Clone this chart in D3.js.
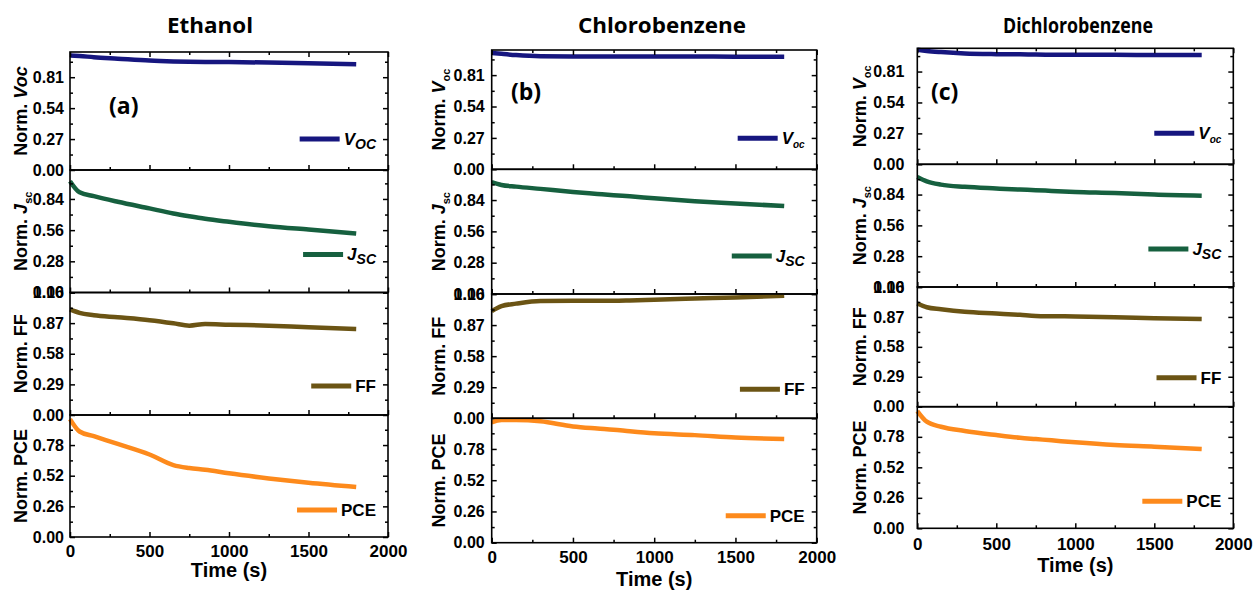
<!DOCTYPE html>
<html>
<head>
<meta charset="utf-8">
<script src="https://cdn.jsdelivr.net/npm/d3@7"></script>
<style>
body { margin: 0; background: #fff; }
svg text { font-family: "Liberation Sans", Arial, sans-serif; font-weight: bold; fill: #000; }
svg text.title { font-family: "Open Sans", sans-serif; }
</style>
</head>
<body>
<svg></svg>
<script>
const width = 1253;
const height = 592;

// data
const solvents = ["Ethanol", "Chlorobenzene", "Dichlorobenzene"];
const panelLetters = ["(a)", "(b)", "(c)"];
const seriesKeys = ["Voc", "Jsc", "FF", "PCE"];
const times = [0, 60, 150, 300, 500, 650, 750, 850, 1000, 1250, 1500, 1800];

const ethanolVoc = [1.0, 0.995, 0.985, 0.972, 0.955, 0.948, 0.945, 0.943, 0.942, 0.938, 0.932, 0.922];
const ethanolJsc = [1.0, 0.90, 0.865, 0.815, 0.755, 0.71, 0.685, 0.662, 0.635, 0.595, 0.565, 0.53];
const ethanolFF = [1.0, 0.967, 0.945, 0.925, 0.897, 0.868, 0.846, 0.862, 0.855, 0.846, 0.83, 0.815];
const ethanolPCE = [1.0, 0.895, 0.855, 0.79, 0.70, 0.61, 0.585, 0.57, 0.54, 0.497, 0.46, 0.424];

const chloroVoc = [1.0, 0.993, 0.982, 0.972, 0.970, 0.970, 0.970, 0.970, 0.970, 0.970, 0.969, 0.968];
const chloroJsc = [1.0, 0.975, 0.96, 0.94, 0.913, 0.895, 0.883, 0.873, 0.856, 0.83, 0.81, 0.786];
const chloroFF = [1.0, 1.047, 1.07, 1.095, 1.097, 1.097, 1.097, 1.10, 1.107, 1.118, 1.128, 1.144];
const chloroPCE = [1.0, 1.02, 1.02, 1.01, 0.967, 0.95, 0.94, 0.927, 0.91, 0.895, 0.875, 0.862];

const dichloroVoc = [1.0, 0.99, 0.98, 0.968, 0.962, 0.96, 0.958, 0.957, 0.957, 0.956, 0.955, 0.955];
const dichloroJsc = [1.0, 0.96, 0.93, 0.91, 0.895, 0.885, 0.88, 0.873, 0.864, 0.855, 0.84, 0.83];
const dichloroFF = [1.0, 0.964, 0.945, 0.92, 0.903, 0.89, 0.88, 0.877, 0.875, 0.868, 0.858, 0.849];
const dichloroPCE = [1.0, 0.909, 0.866, 0.83, 0.795, 0.772, 0.761, 0.75, 0.733, 0.71, 0.696, 0.676];

const allSeries = [
    [ethanolVoc, ethanolJsc, ethanolFF, ethanolPCE],
    [chloroVoc, chloroJsc, chloroFF, chloroPCE],
    [dichloroVoc, dichloroJsc, dichloroFF, dichloroPCE]
];

// axis settings
const xTicks = [0, 500, 1000, 1500, 2000];
const xMinor = [250, 750, 1250, 1750];
const tickSteps = [0.27, 0.28, 0.29, 0.26];
const yTops = [
    [1.03, 1.10, 1.16, 1.035],
    [1.026, 1.115, 1.16, 1.035],
    [1.013, 1.115, 1.16, 1.037]
];

const colors = ["#16167f", "#16603f", "#6b5414", "#fd8a1c"];
const legendOffsets = [31, 38, 29, 27];

// layout of the three sub-figures
const panels = [
    {left: 70, right: 388, bounds: [52, 170, 292.5, 415, 537], titleX: 210, titleW: 86,
     letterX: 109, letterY: 114, labelGap: 6, yTitleOff: 43, xLabelGap: 20, timeY: 577},
    {left: 491.7, right: 816.7, bounds: [50, 169.3, 294, 418.3, 542.7], titleX: 662, titleW: 168,
     letterX: 511, letterY: 100, labelGap: 7, yTitleOff: 47, xLabelGap: 20, timeY: 586},
    {left: 917.3, right: 1233.3, bounds: [48.3, 164.3, 287, 406.7, 528.3], titleX: 1078, titleW: 150,
     letterX: 931, letterY: 100, labelGap: 13, yTitleOff: 51, xLabelGap: 22, timeY: 572}
];

const svg = d3.select("svg").attr("width", width).attr("height", height);

function styleAxis(g, fontSize) {
    g.attr("font-family", null).attr("font-size", null);
    g.select(".domain").remove();
    g.selectAll(".tick line").attr("stroke", "#000").attr("stroke-width", 1.5);
    g.selectAll(".tick text").style("font-size", fontSize + "px");
}

function addYLabel(p, pi, si, y0, y1) {
    const t = svg.append("text")
        .attr("transform", `translate(${p.left - p.yTitleOff},${(y0 + y1) / 2}) rotate(-90)`)
        .attr("text-anchor", "middle")
        .style("font-size", "18px");
    const key = seriesKeys[si];
    if (key === "Voc") {
        if (pi === 0) {
            t.append("tspan").text("Norm. ");
            t.append("tspan").style("font-style", "italic").text("Voc");
        } else {
            t.append("tspan").text("Norm. ");
            t.append("tspan").style("font-style", "italic").text("V");
            t.append("tspan").attr("dy", 5).style("font-size", "11px").text("oc");
        }
    } else if (key === "Jsc") {
        t.append("tspan").text("Norm. ");
        t.append("tspan").style("font-style", "italic").text("J");
        t.append("tspan").attr("dy", 5).style("font-size", "11px").text("sc");
    } else {
        t.text("Norm. " + key);
    }
}

function addLegend(p, pi, si, y1) {
    const key = seriesKeys[si];
    const ly = y1 - legendOffsets[si];
    const tx = p.right - 12;
    const t = svg.append("text")
        .attr("x", tx).attr("y", ly).attr("dy", "0.35em")
        .attr("text-anchor", "end")
        .style("font-size", "17px");
    if (key === "Voc") {
        t.append("tspan").style("font-style", "italic").text("V");
        if (pi === 0) {
            t.append("tspan").attr("dy", 4).style("font-style", "italic").style("font-size", "14px").text("OC");
        } else {
            t.append("tspan").attr("dy", 4).style("font-style", "italic").style("font-size", "10px").text("oc");
        }
    } else if (key === "Jsc") {
        t.append("tspan").style("font-style", "italic").text("J");
        t.append("tspan").attr("dy", 4).style("font-style", "italic").style("font-size", "14px").text("SC");
    } else {
        t.text(key);
    }
    const len = t.node().getComputedTextLength();
    svg.append("line")
        .attr("x1", tx - len - 44).attr("x2", tx - len - 4)
        .attr("y1", ly).attr("y2", ly)
        .attr("stroke", colors[si]).attr("stroke-width", 5);
}

panels.forEach((p, pi) => {
    const x = d3.scaleLinear().domain([0, 2000]).range([p.left, p.right]);

    svg.append("text").attr("class", "title")
        .attr("x", p.titleX).attr("y", 33)
        .attr("text-anchor", "middle")
        .attr("textLength", p.titleW).attr("lengthAdjust", "spacingAndGlyphs")
        .style("font-size", "22px")
        .text(solvents[pi]);

    seriesKeys.forEach((key, si) => {
        const y0 = p.bounds[si], y1 = p.bounds[si + 1];
        const top = yTops[pi][si];
        const step = tickSteps[si];
        const y = d3.scaleLinear().domain([0, top]).range([y1, y0]);
        const majors = d3.range(0, 5).map(i => +(i * step).toFixed(2)).filter(v => v <= top + 1e-9);
        const minors = majors.map(v => v + step / 2).filter(v => v < top);

        // data line
        const values = allSeries[pi][si];
        const pts = times.map((t, i) => ({t: t, v: values[i]}));
        svg.append("path")
            .datum(pts)
            .attr("fill", "none")
            .attr("stroke", colors[si])
            .attr("stroke-width", 4.5)
            .attr("stroke-linejoin", "round")
            .attr("d", d3.line().x(d => x(d.t)).y(d => y(d.v)).curve(d3.curveMonotoneX));

        // y axes, ticks inward on both sides
        svg.append("g").attr("transform", `translate(${p.left},0)`)
            .call(d3.axisLeft(y).tickValues(majors).tickSizeInner(-5).tickSizeOuter(0)
                .tickPadding(p.labelGap).tickFormat(d3.format(".2f")))
            .call(g => styleAxis(g, 16));
        svg.append("g").attr("transform", `translate(${p.left},0)`)
            .call(d3.axisLeft(y).tickValues(minors).tickSizeInner(-3).tickSizeOuter(0).tickFormat(""))
            .call(g => styleAxis(g, 16));
        svg.append("g").attr("transform", `translate(${p.right},0)`)
            .call(d3.axisRight(y).tickValues(majors).tickSizeInner(-5).tickSizeOuter(0).tickFormat(""))
            .call(g => styleAxis(g, 16));
        svg.append("g").attr("transform", `translate(${p.right},0)`)
            .call(d3.axisRight(y).tickValues(minors).tickSizeInner(-3).tickSizeOuter(0).tickFormat(""))
            .call(g => styleAxis(g, 16));

        // x ticks pointing up from the bottom of each strip
        const last = si === seriesKeys.length - 1;
        svg.append("g").attr("transform", `translate(0,${y1})`)
            .call(d3.axisBottom(x).tickValues(xTicks).tickSizeInner(-5).tickSizeOuter(0)
                .tickPadding(p.xLabelGap - 12).tickFormat(last ? d3.format("d") : ""))
            .call(g => styleAxis(g, 17));
        svg.append("g").attr("transform", `translate(0,${y1})`)
            .call(d3.axisBottom(x).tickValues(xMinor).tickSizeInner(-3).tickSizeOuter(0).tickFormat(""))
            .call(g => styleAxis(g, 17));
        if (si === 0) {
            svg.append("g").attr("transform", `translate(0,${y0})`)
                .call(d3.axisTop(x).tickValues(xTicks).tickSizeInner(-5).tickSizeOuter(0).tickFormat(""))
                .call(g => styleAxis(g, 17));
            svg.append("g").attr("transform", `translate(0,${y0})`)
                .call(d3.axisTop(x).tickValues(xMinor).tickSizeInner(-3).tickSizeOuter(0).tickFormat(""))
                .call(g => styleAxis(g, 17));
        }

        svg.append("rect")
            .attr("x", p.left).attr("y", y0)
            .attr("width", p.right - p.left).attr("height", y1 - y0)
            .attr("fill", "none").attr("stroke", "#000").attr("stroke-width", 1.6);

        addYLabel(p, pi, si, y0, y1);
        addLegend(p, pi, si, y1);
    });

    svg.append("text").attr("class", "title")
        .attr("x", p.letterX).attr("y", p.letterY)
        .style("font-size", "23px")
        .text(panelLetters[pi]);

    svg.append("text")
        .attr("x", (p.left + p.right) / 2).attr("y", p.timeY)
        .attr("text-anchor", "middle")
        .style("font-size", "20px")
        .text("Time (s)");
});
</script>
</body>
</html>
